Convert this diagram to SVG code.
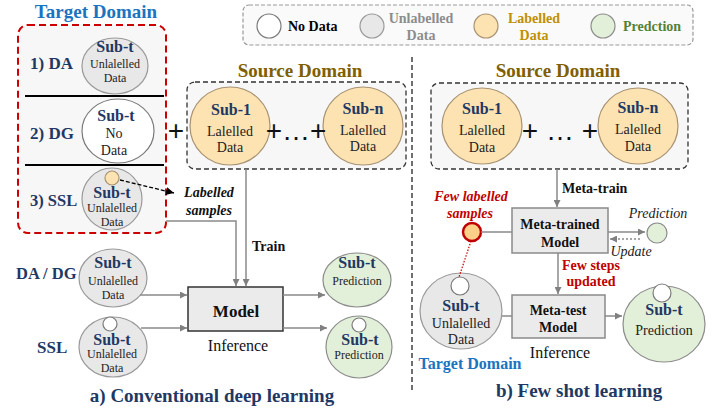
<svg xmlns="http://www.w3.org/2000/svg" width="720" height="408" viewBox="0 0 720 408" font-family="'Liberation Serif', 'Times New Roman', serif">
<defs>
<marker id="ag" viewBox="0 0 10 10" refX="10" refY="5" markerWidth="7" markerHeight="7" orient="auto" markerUnits="userSpaceOnUse"><path d="M0,0 L10,5 L0,10 Z" fill="#808080"/></marker>
<marker id="ak" viewBox="0 0 10 10" refX="10" refY="5" markerWidth="8" markerHeight="8" orient="auto" markerUnits="userSpaceOnUse"><path d="M0,0 L10,5 L0,10 Z" fill="#000"/></marker>
</defs>
<style>
text{font-family:"Liberation Serif","Times New Roman",serif;}
.b{font-weight:bold;}
.i{font-style:italic;}
.m{text-anchor:middle;}
.nv{fill:#1f3864;}
.un{fill:#e8e8e8;stroke:#9a9a9a;stroke-width:1.2;}
.nd{fill:#fff;stroke:#7a7a7a;stroke-width:1.2;}
.lb{fill:#fde3b2;stroke:#a89272;stroke-width:1.2;}
.pr{fill:#e2f0d9;stroke:#8c8c8c;stroke-width:1.2;}
.box{fill:#ebebeb;stroke:#8a8a8a;stroke-width:1.5;}
.cn{fill:none;stroke:#8a8a8a;stroke-width:1.5;}
text.plus{font-family:"Liberation Sans",Arial,sans-serif;font-size:28px;fill:#111;}
</style>

<!-- legend -->
<g id="legend">
<rect x="243" y="5" width="450" height="40" rx="6" fill="#fafafa" stroke="#999" stroke-width="1.2" stroke-dasharray="4,2"/>
<circle class="nd" cx="269" cy="26" r="12"/>
<text x="288" y="31" class="b" font-size="14" fill="#000">No Data</text>
<circle class="un" cx="372" cy="26" r="12"/>
<text x="421" y="23" class="b m" font-size="14" fill="#8c8c8c">Unlabelled</text>
<text x="421" y="40" class="b m" font-size="14" fill="#8c8c8c">Data</text>
<circle class="lb" cx="486" cy="26" r="12"/>
<text x="534" y="23" class="b m" font-size="14" fill="#bf9000">Labelled</text>
<text x="534" y="40" class="b m" font-size="14" fill="#bf9000">Data</text>
<circle class="pr" cx="603" cy="26" r="12"/>
<text x="623" y="31" class="b" font-size="14" fill="#548235">Predction</text>
</g>

<!-- divider -->
<line x1="412" y1="57" x2="412" y2="392" stroke="#222" stroke-width="1.3" stroke-dasharray="5,3"/>

<!-- target domain (left) -->
<g id="target-left">
<text x="96" y="18" class="b m" font-size="19" fill="#1a74c0">Target Domain</text>
<rect x="18" y="25" width="148" height="208" rx="10" fill="#f7f7f7" stroke="#cc0000" stroke-width="2" stroke-dasharray="7,4"/>
<line x1="25" y1="96" x2="164" y2="96" stroke="#000" stroke-width="2"/>
<line x1="25" y1="165" x2="164" y2="165" stroke="#000" stroke-width="2"/>
</g>
<g id="row-da">
<text x="30" y="69" class="b nv" font-size="17">1) DA</text>
<ellipse class="un" cx="115" cy="66" rx="33" ry="28"/>
<text x="115" y="52" class="b m nv" font-size="16">Sub-t</text>
<text x="115" y="68" class="m" font-size="12" fill="#222">Unlalelled</text>
<text x="115" y="82" class="m" font-size="12" fill="#222">Data</text>
</g>
<g id="row-dg">
<text x="30" y="139" class="b nv" font-size="17">2) DG</text>
<ellipse class="nd" cx="118" cy="131" rx="36" ry="32"/>
<text x="116" y="121" class="b m nv" font-size="16">Sub-t</text>
<text x="114" y="138" class="m" font-size="14" fill="#222">No</text>
<text x="114" y="155" class="m" font-size="14" fill="#222">Data</text>
</g>
<g id="row-ssl">
<text x="30" y="206" class="b nv" font-size="16.5">3) SSL</text>
<ellipse class="un" cx="112" cy="199" rx="30" ry="31"/>
<circle class="lb" cx="112" cy="178" r="7"/>
<text x="112" y="198" class="b m nv" font-size="16">Sub-t</text>
<text x="112" y="212" class="m" font-size="12" fill="#222">Unlalelled</text>
<text x="112" y="226" class="m" font-size="12" fill="#222">Data</text>
</g>
<g id="labelled-samples">
<text x="209" y="197" class="b i m" font-size="14" fill="#111">Labelled</text>
<text x="209" y="215" class="b i m" font-size="14" fill="#111">samples</text>
</g>

<!-- source domain (left) -->
<g id="source-left">
<text x="300" y="77" class="b m" font-size="19" fill="#7f6000">Source Domain</text>
<rect x="187" y="82" width="219" height="87" rx="8" fill="#f7f7f7" stroke="#333" stroke-width="1.3" stroke-dasharray="5,3"/>
<ellipse class="lb" cx="230" cy="126" rx="40" ry="39"/>
<text x="231" y="115" class="b m nv" font-size="16">Sub-1</text>
<text x="230" y="136" class="m" font-size="14" fill="#222">Lalelled</text>
<text x="230" y="152" class="m" font-size="14" fill="#222">Data</text>
<ellipse class="lb" cx="363" cy="126" rx="40" ry="39"/>
<text x="363" y="114" class="b m nv" font-size="16">Sub-n</text>
<text x="363" y="135" class="m" font-size="14" fill="#222">Lalelled</text>
<text x="363" y="151" class="m" font-size="14" fill="#222">Data</text>
<text x="296" y="140" class="m plus">+…+</text>
</g>
<text x="176" y="140" class="m plus">+</text>

<!-- left bottom nodes -->
<g id="in-dadg">
<text x="16" y="279" class="b nv" font-size="16.5">DA / DG</text>
<ellipse class="un" cx="113" cy="278" rx="34" ry="29"/>
<text x="113" y="268" class="b m nv" font-size="16">Sub-t</text>
<text x="113" y="285" class="m" font-size="12" fill="#222">Unlalelled</text>
<text x="113" y="299" class="m" font-size="12" fill="#222">Data</text>
</g>
<g id="in-ssl">
<text x="37" y="353" class="b nv" font-size="17">SSL</text>
<ellipse class="un" cx="113" cy="347" rx="34" ry="30"/>
<circle class="nd" cx="110" cy="324" r="7"/>
<text x="112" y="345" class="b m nv" font-size="16">Sub-t</text>
<text x="112" y="358" class="m" font-size="12" fill="#222">Unlalelled</text>
<text x="112" y="372" class="m" font-size="12" fill="#222">Data</text>
</g>
<g id="model">
<rect x="188" y="287" width="95" height="44" fill="#ebebeb" stroke="#333" stroke-width="1.5"/>
<text x="236" y="317" class="b m" font-size="17" fill="#111">Model</text>
<text x="238" y="351" class="m" font-size="16" fill="#111">Inference</text>
</g>
<g id="pred1">
<ellipse class="pr" cx="357" cy="280" rx="34" ry="27"/>
<text x="357" y="268" class="b m nv" font-size="16">Sub-t</text>
<text x="357" y="285" class="m" font-size="12" fill="#222">Prediction</text>
</g>
<g id="pred2">
<ellipse class="pr" cx="359" cy="347" rx="33" ry="31"/>
<circle class="nd" cx="359" cy="325" r="7"/>
<text x="360" y="345" class="b m nv" font-size="16">Sub-t</text>
<text x="359" y="359" class="m" font-size="12" fill="#222">Prediction</text>
</g>
<text x="212" y="402" class="b m nv" font-size="19">a) Conventional deep learning</text>

<!-- source domain (right) -->
<g id="source-right">
<text x="558" y="77" class="b m" font-size="19" fill="#7f6000">Source Domain</text>
<rect x="431" y="83" width="257" height="86" rx="8" fill="#f7f7f7" stroke="#333" stroke-width="1.3" stroke-dasharray="5,3"/>
<ellipse class="lb" cx="482" cy="126" rx="40" ry="38"/>
<text x="482" y="114" class="b m nv" font-size="16">Sub-1</text>
<text x="482" y="135" class="m" font-size="14" fill="#222">Lalelled</text>
<text x="482" y="152" class="m" font-size="14" fill="#222">Data</text>
<ellipse class="lb" cx="638" cy="126" rx="40" ry="38"/>
<text x="638" y="113" class="b m nv" font-size="16">Sub-n</text>
<text x="638" y="134" class="m" font-size="14" fill="#222">Lalelled</text>
<text x="638" y="151" class="m" font-size="14" fill="#222">Data</text>
<text x="560" y="140" class="m plus">+ … +</text>
</g>

<g id="few-labelled">
<text x="471" y="201" class="b i m" font-size="14" fill="#c00000">Few labelled</text>
<text x="470" y="218" class="b i m" font-size="14" fill="#c00000">samples</text>
<circle cx="472" cy="232" r="9" fill="#fdd08a" stroke="#c00000" stroke-width="2.5"/>
</g>
<g id="meta-trained">
<rect class="box" x="512" y="208" width="96" height="45"/>
<text x="560" y="229" class="b m" font-size="14" fill="#111">Meta-trained</text>
<text x="560" y="247" class="b m" font-size="14" fill="#111">Model</text>
</g>
<g id="pred-small">
<circle class="pr" cx="657" cy="233" r="10"/>
<text x="658" y="218" class="i m" font-size="14" fill="#222">Prediction</text>
<text x="631" y="256" class="i m" font-size="14" fill="#222">Update</text>
</g>
<g id="meta-test">
<rect class="box" x="512" y="295" width="93" height="43"/>
<text x="558" y="315" class="b m" font-size="14" fill="#111">Meta-test</text>
<text x="558" y="332" class="b m" font-size="14" fill="#111">Model</text>
<text x="560" y="358" class="m" font-size="16" fill="#111">Inference</text>
</g>
<g id="few-steps">
<text x="591" y="270" class="b m" font-size="14" fill="#c00000">Few steps</text>
<text x="591" y="286" class="b m" font-size="14" fill="#c00000">updated</text>
</g>
<g id="target-right">
<ellipse class="un" cx="461" cy="311" rx="41" ry="38"/>
<circle class="nd" cx="460" cy="286" r="9"/>
<text x="461" y="311" class="b m nv" font-size="16">Sub-t</text>
<text x="461" y="328" class="m" font-size="14" fill="#222">Unlalelled</text>
<text x="461" y="344" class="m" font-size="14" fill="#222">Data</text>
<text x="470" y="369" class="b m" font-size="16" fill="#1a74c0">Target Domain</text>
</g>
<g id="pred-right">
<ellipse class="pr" cx="664" cy="324" rx="41" ry="38"/>
<circle class="nd" cx="662" cy="293" r="9"/>
<text x="664" y="315" class="b m nv" font-size="16">Sub-t</text>
<text x="664" y="335" class="m" font-size="14" fill="#222">Prediction</text>
</g>
<text x="579" y="397" class="b m nv" font-size="19">b) Few shot learning</text>

<!-- connectors -->
<g id="connectors">
<path d="M120,180 L174,193" fill="none" stroke="#000" stroke-width="1.3" stroke-dasharray="4,2" marker-end="url(#ak)"/>
<path class="cn" d="M166,221 H236 V286" marker-end="url(#ag)"/>
<path class="cn" d="M246,169 V286" marker-end="url(#ag)"/>
<text x="252" y="251" class="b" font-size="14" fill="#111">Train</text>
<path class="cn" d="M140,295 H187" marker-end="url(#ag)"/>
<path class="cn" d="M141,328 H187" marker-end="url(#ag)"/>
<path class="cn" d="M283,295 H325" marker-end="url(#ag)"/>
<path class="cn" d="M283,328 H327" marker-end="url(#ag)"/>
<path class="cn" d="M557,169 V207" marker-end="url(#ag)"/>
<text x="562" y="193" class="b" font-size="14" fill="#111">Meta-train</text>
<path class="cn" d="M481,232 H512"/>
<path class="cn" d="M608,232 H645" marker-end="url(#ag)"/>
<path class="cn" d="M640,239 H610" stroke-dasharray="2,2" marker-end="url(#ag)"/>
<path class="cn" d="M558,253 V294" marker-end="url(#ag)"/>
<path d="M471,241 L459,277" fill="none" stroke="#c00000" stroke-width="1.2" stroke-dasharray="1.5,1.5"/>
<path class="cn" d="M502,316 H512"/>
<path class="cn" d="M605,316 H622" marker-end="url(#ag)"/>
</g>
</svg>
